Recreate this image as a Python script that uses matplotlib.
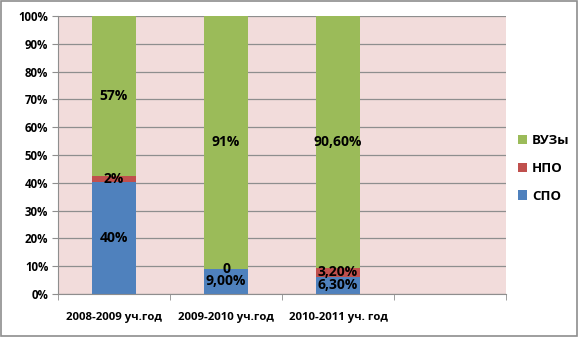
import matplotlib
matplotlib.use("Agg")
import matplotlib.pyplot as plt
import numpy as np
from matplotlib.patches import Rectangle

plt.rcParams['font.family'] = ['Open Sans', 'DejaVu Sans']

categories = ["2008-2009 уч.год", "2009-2010 уч.год", "2010-2011 уч. год", ""]
spo = [40.0, 9.0, 6.3]
npo = [2.0, 0.0, 3.2]
vuz = [57.0, 91.0, 90.6]
spo_labels = ["40%", "9,00%", "6,30%"]
npo_labels = ["2%", "0", "3,20%"]
vuz_labels = ["57%", "91%", "90,60%"]
yticks = [0, 10, 20, 30, 40, 50, 60, 70, 80, 90, 100]

fig = plt.figure(figsize=(5.78, 3.37), dpi=100)
ax = fig.add_axes([58/578, 43/337, 448/578, 278/337])
ax.set_facecolor('#f2dcdb')

totals = np.array(spo) + np.array(npo) + np.array(vuz)
s = np.array(spo) / totals * 100
n = np.array(npo) / totals * 100
v = np.array(vuz) / totals * 100
x = np.arange(len(spo))

ax.set_axisbelow(True)
ax.yaxis.grid(True, color='#8e8e8e', linewidth=0.9)

b1 = ax.bar(x, s, width=0.4, color='#4f81bd', label='СПО')
b2 = ax.bar(x, n, width=0.4, bottom=s, color='#c0504d', label='НПО')
b3 = ax.bar(x, v, width=0.4, bottom=s + n, color='#9bbb59', label='ВУЗы')

lab_kw = dict(label_type='center', fontsize=10, fontweight='bold', color='black')
ax.bar_label(b1, labels=spo_labels, **lab_kw)
ax.bar_label(b2, labels=npo_labels, **lab_kw)
ax.bar_label(b3, labels=vuz_labels, **lab_kw)

ax.set_xlim(-0.5, len(categories) - 0.5)
ax.set_ylim(0, 100)
ax.set_yticks(yticks)
ax.set_yticklabels([f"{t}%" for t in yticks], fontsize=8.3, fontweight='bold')
ax.set_xticks(np.arange(len(categories)))
ax.set_xticklabels(categories, fontsize=8.2, fontweight='bold')
ax.tick_params(axis='x', length=0, pad=13)
ax.set_xticks(np.arange(len(categories) + 1) - 0.5, minor=True)
ax.tick_params(axis='x', which='minor', length=4, color='#8e8e8e')
ax.tick_params(axis='y', length=4, color='#8e8e8e', pad=3)

for side in ['top', 'right']:
    ax.spines[side].set_visible(False)
for side in ['left', 'bottom']:
    ax.spines[side].set_color('#8e8e8e')

handles = [b3, b2, b1]
leg = fig.legend(handles, [h.get_label() for h in handles], loc='center left',
                 bbox_to_anchor=(0.875, 0.50), frameon=False,
                 prop={'size': 9.5, 'weight': 'bold'},
                 handlelength=0.7, handleheight=0.7, handletextpad=0.4,
                 labelspacing=1.1)

fig.patches.append(Rectangle((0.001, 0.002), 0.997, 0.995, transform=fig.transFigure,
                             fill=False, edgecolor='#8e8e8e', linewidth=1.2))

fig.savefig('out.png', dpi=100)
